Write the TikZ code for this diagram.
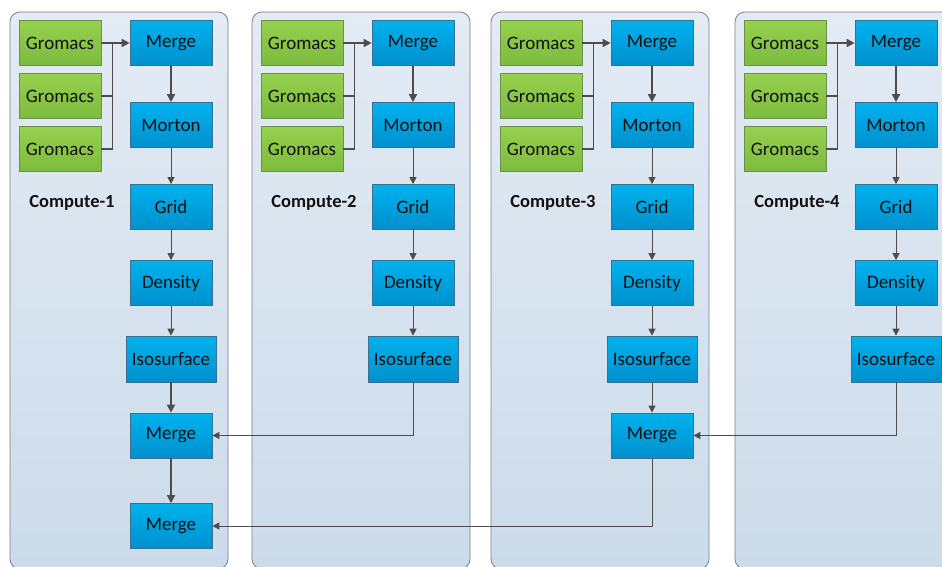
\documentclass[tikz,border=0pt]{standalone}
\usepackage{fontspec}
\setmainfont{Carlito}
\usetikzlibrary{arrows.meta}
\definecolor{panelTop}{HTML}{E3EBF4}
\definecolor{panelBot}{HTML}{CCDBEA}
\definecolor{panelLine}{HTML}{7A8087}
\definecolor{greenTop}{HTML}{96D14E}
\definecolor{greenBot}{HTML}{7DBB3F}
\definecolor{greenLine}{HTML}{6E8F4C}
\definecolor{blueTop}{HTML}{00B2EE}
\definecolor{blueBot}{HTML}{0090CE}
\definecolor{blueLine}{HTML}{3A6F8F}
\definecolor{wireGray}{HTML}{4D4D4D}
\definecolor{textDark}{HTML}{111111}
\tikzset{
  panel/.style={draw=panelLine, line width=0.8pt, top color=panelTop, bottom color=panelBot, rounded corners=10pt},
  gromacs/.style={draw=greenLine, line width=0.7pt, top color=greenTop, bottom color=greenBot,
    minimum width=82pt, minimum height=45pt, inner sep=0pt, text=textDark, font=\fontsize{19}{21}\selectfont},
  stage/.style={draw=blueLine, line width=0.7pt, top color=blueTop, bottom color=blueBot,
    minimum width=82pt, minimum height=45pt, inner sep=0pt, text=textDark, font=\fontsize{19}{21}\selectfont},
  wide/.style={minimum width=90pt, minimum height=46pt},
  tag/.style={font=\bfseries\fontsize{18.5}{20}\selectfont, text=textDark},
  wire/.style={draw=wireGray, line width=1.6pt},
  flow/.style={draw=wireGray, line width=1.6pt, -{Triangle[length=8pt,width=8pt]}},
  thinflow/.style={draw=wireGray, line width=1pt, -{Triangle[length=7pt,width=7pt]}}
}
\begin{document}
\begin{tikzpicture}[x=1pt,y=-1pt]
\clip (0,0) rectangle (942,567);
\fill[white] (0,0) rectangle (942,567);

\foreach \i/\o in {1/0,2/242,3/481,4/725} {
  % panel and its label
  \draw[panel] (\o+10,12) rectangle (\o+228,569);
  \node[tag] (tag\i) at (\o+72,203) {Compute-\i};
  % sources
  \node[gromacs] (g\i a) at (\o+60,43) {Gromacs};
  \node[gromacs] (g\i b) at (\o+60,96) {Gromacs};
  \node[gromacs] (g\i c) at (\o+60,149) {Gromacs};
  % pipeline
  \node[stage] (m\i) at (\o+171,43) {Merge};
  \node[stage] (mo\i) at (\o+171,125) {Morton};
  \node[stage] (gr\i) at (\o+171,207) {Grid};
  \node[stage] (de\i) at (\o+171,283) {Density};
  \node[stage, wide] (is\i) at (\o+171,359) {Isosurface};
  \coordinate (bus\i) at ([xshift=11pt]g\i a.east);
  \draw[wire] (g\i c.east) -| (bus\i);
  \draw[wire] (g\i b.east) -- (g\i b.east -| bus\i);
  \draw[flow] (g\i a.east) -- (m\i.west);
  \draw[flow] (m\i) -- (mo\i);
  \draw[thinflow] (mo\i) -- (gr\i);
  \draw[thinflow] (gr\i) -- (de\i);
  \draw[thinflow] (de\i) -- (is\i);
}

% reduction
\node[stage] (r1) at (171,435.5) {Merge};
\node[stage] (r3) at (652,435.5) {Merge};
\node[stage] (final) at (171,526) {Merge};
\draw[flow] (is1) -- (r1);
\draw[thinflow] (is3) -- (r3);
\draw[thinflow] (is2.south) |- (r1.east);
\draw[thinflow] (is4.south) |- (r3.east);
\draw[flow] (r1) -- (final);
\draw[thinflow] (r3.south) |- (final.east);
\end{tikzpicture}
\end{document}
